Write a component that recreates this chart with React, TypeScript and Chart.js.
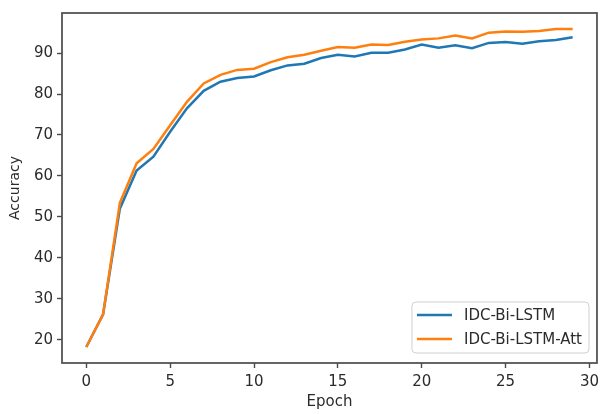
import React, { useEffect, useRef } from 'react';
import { Chart, registerables } from 'chart.js';

Chart.register(...registerables);

const epochs = [0, 1, 2, 3, 4, 5, 6, 7, 8, 9, 10, 11, 12, 13, 14, 15, 16, 17, 18, 19, 20, 21, 22, 23, 24, 25, 26, 27, 28, 29];
const biLstm = [18.2, 26.2, 52.0, 61.3, 64.7, 70.8, 76.5, 80.8, 83.0, 83.9, 84.3, 85.8, 87.0, 87.4, 88.8, 89.6, 89.2, 90.1, 90.1, 90.9, 92.1, 91.3, 91.9, 91.2, 92.5, 92.7, 92.3, 92.9, 93.2, 93.9];
const biLstmAtt = [18.2, 26.2, 53.4, 63.1, 66.6, 72.4, 78.1, 82.6, 84.7, 85.9, 86.2, 87.8, 89.0, 89.6, 90.6, 91.5, 91.3, 92.1, 92.0, 92.8, 93.3, 93.6, 94.3, 93.6, 95.0, 95.3, 95.2, 95.4, 95.9, 95.9];
const xTicks = [0, 5, 10, 15, 20, 25, 30];
const yTicks = [20, 30, 40, 50, 60, 70, 80, 90];
const seriesLabels = ['IDC-Bi-LSTM', 'IDC-Bi-LSTM-Att'];
const seriesColors = ['#1f77b4', '#ff7f0e'];
const xLabel = 'Epoch';
const yLabel = 'Accuracy';

const FONT = '"DejaVu Sans", sans-serif';
const TEXT = '#2b2b2b';
const SPINE = '#4a4a4a';

const framePlugin = {
  id: 'frameLegend',
  afterDraw(chart: any) {
    const ctx = chart.ctx;
    const ca = chart.chartArea;
    ctx.save();
    // frame
    ctx.strokeStyle = SPINE;
    ctx.lineWidth = 1.7;
    ctx.strokeRect(ca.left, ca.top, ca.right - ca.left, ca.bottom - ca.top);

    // legend
    ctx.font = `15px ${FONT}`;
    const tw = Math.max(...seriesLabels.map((l) => ctx.measureText(l).width));
    const textOff = 52;
    const boxW = textOff + tw + 7;
    const boxH = 51;
    const right = ca.right - 8;
    const bottom = ca.bottom - 10;
    const left = right - boxW;
    const top = bottom - boxH;
    ctx.beginPath();
    (ctx as any).roundRect(left, top, boxW, boxH, 4);
    ctx.fillStyle = 'rgba(255,255,255,0.85)';
    ctx.fill();
    ctx.strokeStyle = '#d0d0d0';
    ctx.lineWidth = 1;
    ctx.stroke();
    seriesLabels.forEach((lab, i) => {
      const cy = top + 13 + i * 24;
      ctx.beginPath();
      ctx.strokeStyle = seriesColors[i];
      ctx.lineWidth = 2.5;
      ctx.moveTo(left + 5, cy);
      ctx.lineTo(left + 40, cy);
      ctx.stroke();
      ctx.fillStyle = TEXT;
      ctx.textBaseline = 'middle';
      ctx.textAlign = 'left';
      ctx.fillText(lab, left + textOff, cy + 1);
    });
    ctx.restore();
  },
};

export default function App() {
  const ref = useRef<HTMLCanvasElement | null>(null);
  useEffect(() => {
    if (!ref.current) return;
    const mk = (vals: number[]) => epochs.map((e, i) => ({ x: e, y: vals[i] }));
    const chart = new Chart(ref.current, {
      type: 'line',
      data: {
        datasets: [
          {
            label: seriesLabels[0],
            data: mk(biLstm),
            borderColor: seriesColors[0],
            backgroundColor: seriesColors[0],
            borderWidth: 2.5,
            pointRadius: 0,
            tension: 0,
            order: 1,
          },
          {
            label: seriesLabels[1],
            data: mk(biLstmAtt),
            borderColor: seriesColors[1],
            backgroundColor: seriesColors[1],
            borderWidth: 2.5,
            pointRadius: 0,
            tension: 0,
            order: 0,
          },
        ],
      },
      options: {
        animation: false,
        responsive: false,
        devicePixelRatio: 1,
        layout: { padding: { top: 11, right: 2, left: 0, bottom: 0 } },
        plugins: { legend: { display: false }, tooltip: { enabled: false } },
        scales: {
          x: {
            type: 'linear',
            min: -1.45,
            max: 30.45,
            afterBuildTicks: (s: any) => {
              s.ticks = xTicks.map((v) => ({ value: v }));
            },
            afterFit: (s: any) => {
              s.height = 51;
            },
            grid: { drawOnChartArea: false, drawTicks: true, tickLength: 5, tickWidth: 1.4, tickColor: SPINE },
            border: { display: false },
            ticks: { font: { family: FONT, size: 15 }, color: TEXT, padding: 5, maxRotation: 0, autoSkip: false },
            title: { display: true, text: xLabel, font: { family: FONT, size: 15 }, color: TEXT, padding: { top: 0, bottom: 3 } },
          },
          y: {
            type: 'linear',
            min: 14.3,
            max: 99.8,
            afterBuildTicks: (s: any) => {
              s.ticks = yTicks.map((v) => ({ value: v }));
            },
            afterFit: (s: any) => {
              s.width = 62;
            },
            grid: { drawOnChartArea: false, drawTicks: true, tickLength: 5, tickWidth: 1.4, tickColor: SPINE },
            border: { display: false },
            ticks: { font: { family: FONT, size: 15 }, color: TEXT, padding: 4, autoSkip: false },
            title: { display: true, text: yLabel, font: { family: FONT, size: 14 }, color: TEXT, padding: { top: 7, bottom: 0 } },
          },
        },
      },
      plugins: [framePlugin],
    } as any);
    return () => chart.destroy();
  }, []);
  return (
    <canvas
      ref={ref}
      width={604}
      height={414}
      style={{ position: 'fixed', left: 0, top: 0, width: 604, height: 414, display: 'block', background: '#fff' }}
    />
  );
}
